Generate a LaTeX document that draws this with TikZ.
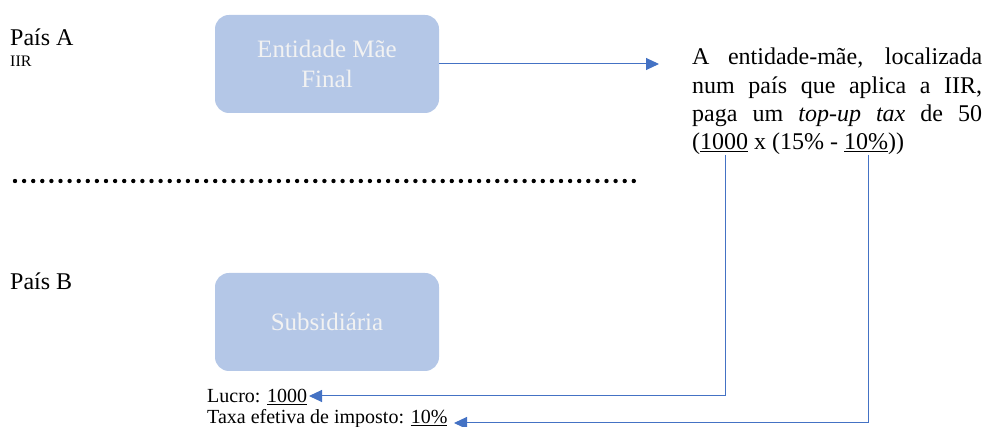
\documentclass[tikz,border=0pt]{standalone}
\usepackage{fontspec}
\setmainfont{Liberation Serif}
\usetikzlibrary{arrows.meta}
\definecolor{boxfill}{HTML}{B4C7E7}
\definecolor{arrowblue}{HTML}{4472C4}
\definecolor{boxtext}{HTML}{F2F2F2}
\begin{document}
\begin{tikzpicture}[x=1pt,y=-1pt,
  entity/.style={rectangle, rounded corners=14pt, fill=boxfill, minimum width=224pt, minimum height=98pt, text=boxtext, font=\fontsize{25}{30}\selectfont, align=center, inner sep=0pt},
  link/.style={draw=arrowblue, line width=1pt, -{Triangle[length=13pt,width=12pt]}},
  lbl/.style={inner sep=0pt, anchor=base west},
  big/.style={font=\fontsize{24}{28}\selectfont},
  small/.style={font=\fontsize{20}{24}\selectfont},
  tiny/.style={font=\fontsize{16}{19}\selectfont}
]
\useasboundingbox (0,0) rectangle (986,427);
\node[entity] (mae) at (327,64) {Entidade Mãe\\Final};
\node[entity] (sub) at (327,322) {Subsidiária};
\node[lbl, big] (paisA) at (10,46) {País A};
\node[lbl, tiny] (iir) at (10,67) {IIR};
\node[lbl, big] (paisB) at (10,290) {País B};
\node[lbl, text width=290pt, align=justify, font=\fontsize{24}{28.3}\selectfont] (desc) at (692,65)
  {A entidade-mãe, localizada num país que aplica a IIR, paga um \textit{top-up tax} de 50 (\underline{1000} x (15\% - \underline{10\%}))};
\node[lbl, small] (lucro) at (207,403) {Lucro: \underline{1000}};
\node[lbl, small] (taxa) at (207,424) {Taxa efetiva de imposto: \underline{10\%}};
\coordinate (tipA) at (659,64);
\coordinate (u1) at (725,155);
\coordinate (u2) at (868,155);
\coordinate (tipL) at (309,396);
\coordinate (tipT) at (454,423);
\coordinate (dotL) at (15,181);
\coordinate (dotR) at (636,181);
\draw[link] (mae.east) -- (tipA);
\draw[link] (u1) |- (tipL);
\draw[link] (u2) |- (tipT);
\draw[line width=4.4pt, line cap=round, dash pattern=on 0pt off 9.1pt] (dotL) -- (dotR);
\end{tikzpicture}
\end{document}
